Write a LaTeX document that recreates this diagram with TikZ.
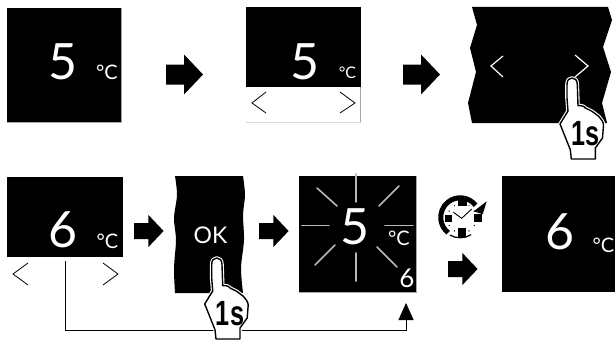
\documentclass[tikz,border=0pt]{standalone}
\usepackage{fontspec}
\setmainfont{Lato}
\newfontfamily\handfont{Liberation Sans}[BoldFont={Liberation Sans Bold}]
\usetikzlibrary{arrows.meta}
\tikzset{
  panel/.style={fill=black,draw=none,inner sep=0pt,outer sep=0pt},
  bignum/.style={text=white,inner sep=0pt,font=\fontsize{50}{50}\selectfont},
  unit/.style={text=white,inner sep=0pt,font=\fontsize{20}{20}\selectfont},
  chev/.style={line width=.8pt,line join=miter},
  chevw/.style={white,line width=1.2pt},
  ray/.style={line width=1.6pt,black!28,line cap=round},
  edgeg/.style={black!35,line width=.7pt},
  conn/.style={line width=1pt,-{Triangle[length=17pt,width=15pt]},rounded corners=0pt},
}
\newcommand{\flowarrow}[4]{% x0 ymid scale-x scale-y
  \fill[black,shift={(#1,#2)},xscale=#3,yscale=#4] (0,-10) -- (18,-10) -- (18,-20) -- (37,0) -- (18,20) -- (18,10) -- (0,10) -- cycle;}
\newcommand{\pressicon}[3]{%
  \begin{scope}[shift={(#1,#2)}]
    \path[draw=white,line width=3.6pt,line join=round,fill=white,postaction={draw=black,line width=1.4pt}]
      (-5,20) -- (-5,6.7) .. controls (-5,2) and (-3,0) .. (0,0)
      .. controls (3,0) and (5.3,2) .. (5.3,6.7) -- (6,27.7)
      .. controls (10,27) and (13,29) .. (13.3,30) -- (20,33.3) -- (26.7,38.3)
      .. controls (29,41) and (31.5,44) .. (31.5,47) -- (30.5,60) -- (23.3,70) -- (23.3,81) -- (-.7,81) -- (-1.7,71.7)
      -- (-12,46) -- (-4,33) -- cycle;
    \node[inner sep=0pt,xscale=.72,font=\handfont\bfseries\fontsize{35}{35}\selectfont] (#3) at (13.3,55.5) {1s};
  \end{scope}}
\begin{document}
\begin{tikzpicture}[x=1pt,y=-1pt]
\useasboundingbox (0,0) rectangle (615,345);
\fill[white] (0,0) rectangle (615,345);

% panel 1
\fill[panel] (7,8) rectangle (121,122);
\draw[edgeg] (121,8) -- (121,122) -- (7,122);
\node[bignum] (n1) at (63,61.5) {5};
\node[unit] (u1) at (107,72) {°C};
\flowarrow{166}{74.5}{1}{1}

% panel 2
\fill[panel] (246,7) rectangle (361,87);
\draw[edgeg] (360.7,87) -- (360.7,122);
\draw[black!15,line width=.7pt] (246,122) -- (360.7,122);
\node[bignum] (n2) at (305,61.5) {5};
\node[unit,font=\fontsize{16}{16}\selectfont] (u2) at (347.5,73) {°C};
\draw[chev] (266,92) -- (252,103) -- (266,113);
\draw[chev] (340,92) -- (355,103) -- (340,113);
\flowarrow{403}{74.5}{1}{1}

% panel 3
\fill[panel] (472,7) -- (477,25) -- (470,48) -- (476,72) -- (468,103) -- (472,123) -- (570,123) -- (600,123)
  -- (607,123) -- (602,103) -- (611,72) -- (603,47) -- (612,20) -- (608,7) -- cycle;
\draw[chevw] (503,56) -- (491,66) -- (503,77);
\draw[chevw] (575,55) -- (588,66) -- (575,77);

% panel 4
\fill[panel] (7,177) rectangle (123,257);
\node[bignum] (n4) at (63,229.5) {6};
\node[unit] (u4) at (107.5,241) {°C};
\draw[chev] (28,263) -- (13,274) -- (28,285);
\draw[chev] (103,263) -- (118,274) -- (103,285);
\coordinate (cs) at (65.5,261);
\coordinate (ce) at (406,303);
\flowarrow{134}{231}{.8}{.8}

% OK panel
\fill[panel] plot[smooth,tension=.5] coordinates {(175,176) (177,195) (174,218) (176,240) (174,268) (175,293)}
  -- plot[smooth,tension=.5] coordinates {(243,293) (241,268) (244,240) (243,215) (245,195) (243,176)} -- cycle;
\node[inner sep=0pt,text=white,font=\fontsize{23}{23}\selectfont] (ok) at (210.5,235) {OK};
\flowarrow{259}{231}{.8}{.8}

% panel 5
\fill[panel] (299,176) rectangle (416,292);
\draw[edgeg] (416,176) -- (416,292) -- (299,292);
\node[bignum] (n5) at (355,227) {5};
\node[unit] (u5) at (399,238) {°C};
\node[text=white,inner sep=0pt,font=\fontsize{26}{26}\selectfont] (s6) at (407,278.5) {6};
\draw[ray] (356,174) -- (356,202);
\draw[ray] (356,253) -- (356,281);
\draw[ray] (302,225.5) -- (329,225.5);
\draw[ray] (385,225.5) -- (413,225.5);
\draw[ray] (379,206) -- (399,186);
\draw[ray] (377,247) -- (397,267);
\draw[ray] (317,188) -- (337,206);
\draw[ray] (335,245) -- (315,265);

% clock
\begin{scope}[shift={(461.7,218.3)}]
  \draw[line width=5pt] (-1.5,-1) ++(-38:19.5) arc[start angle=-38,end angle=-232,radius=19.5];
  \draw[line width=1.2pt] (-1.5,-1) ++(-240:20.5) arc[start angle=-240,end angle=-302,radius=20.5];
  \fill (12,-7) -- (25,-17) -- (21,-4) -- cycle;
  \fill (-3.3,-18) rectangle (5,-12.7);
  \fill (-16.7,-3.3) rectangle (-10,3.3);
  \fill (12.3,-4) rectangle (20,3.3);
  \fill (-3.3,10) rectangle (4.3,18.3);
  \draw[line width=.9pt] (-8.3,-6) -- (0,0) -- (10,-9.3);
  \foreach \a in {30,60,120,150,210,240,300,330} \fill (\a:14.5) circle (.7);
\end{scope}
\flowarrow{448}{269}{.8}{.8}

% panel 6
\fill[panel] (502,176) rectangle (615,292);
\node[bignum] (n6) at (560,231.5) {6};
\node[unit] (u6) at (603.5,245.5) {°C};

% connector
\draw[conn] (cs) |- (ce |- 0,330) -- (ce);

% hands
\pressicon{572}{78}{h1}
\pressicon{216.7}{258}{h2}
\end{tikzpicture}
\end{document}
